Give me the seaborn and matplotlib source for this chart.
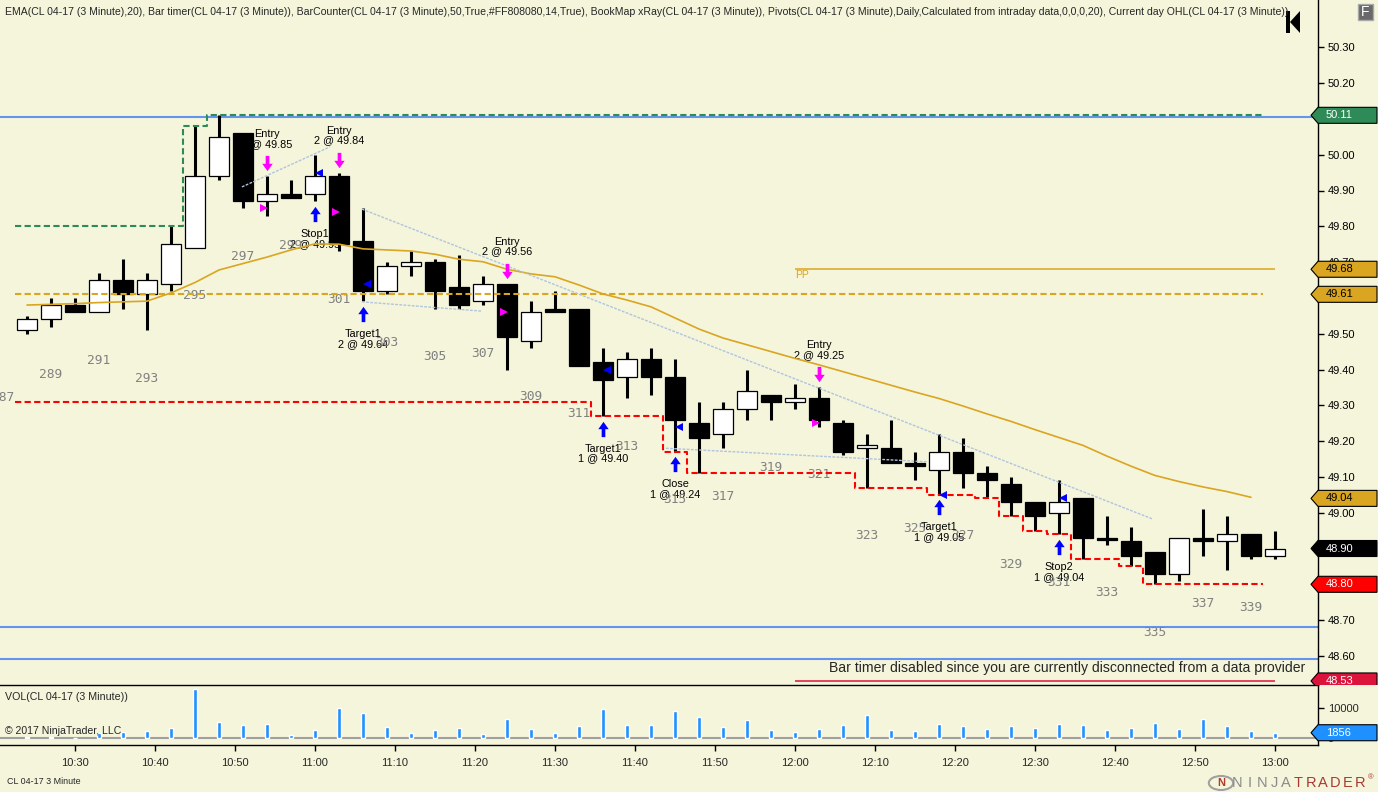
import matplotlib
matplotlib.use("Agg")
import numpy as np
import pandas as pd
import matplotlib.pyplot as plt
import seaborn as sns
from matplotlib.path import Path
from matplotlib.patches import Polygon, Rectangle, Circle
from matplotlib import transforms
from matplotlib import font_manager as fm

# ---------------- data ----------------
bar_times = ["10:24", "10:27", "10:30", "10:33", "10:36", "10:39", "10:42", "10:45", "10:48",
             "10:51", "10:54", "10:57", "11:00", "11:03", "11:06", "11:09", "11:12", "11:15",
             "11:18", "11:21", "11:24", "11:27", "11:30", "11:33", "11:36", "11:39", "11:42",
             "11:45", "11:48", "11:51", "11:54", "11:57", "12:00", "12:03", "12:06", "12:09",
             "12:12", "12:15", "12:18", "12:21", "12:24", "12:27", "12:30", "12:33", "12:36",
             "12:39", "12:42", "12:45", "12:48", "12:51", "12:54", "12:57", "13:00"]
opens = [49.51, 49.54, 49.58, 49.56, 49.65, 49.61, 49.64, 49.74, 49.94, 50.06, 49.87, 49.89, 49.89,
         49.94, 49.76, 49.62, 49.69, 49.70, 49.63, 49.59, 49.64, 49.48, 49.57, 49.57, 49.42, 49.38,
         49.43, 49.38, 49.25, 49.22, 49.29, 49.33, 49.31, 49.32, 49.25, 49.18, 49.18, 49.14, 49.12,
         49.17, 49.11, 49.08, 49.03, 49.00, 49.04, 48.93, 48.92, 48.89, 48.83, 48.93, 48.92, 48.94, 48.88]
highs = [49.55, 49.60, 49.60, 49.67, 49.71, 49.67, 49.80, 50.08, 50.11, 50.06, 49.94, 49.93, 50.00,
         49.95, 49.85, 49.70, 49.73, 49.71, 49.72, 49.66, 49.64, 49.59, 49.62, 49.57, 49.46, 49.45,
         49.46, 49.43, 49.31, 49.31, 49.40, 49.33, 49.36, 49.35, 49.26, 49.22, 49.26, 49.17, 49.22,
         49.21, 49.13, 49.10, 49.03, 49.09, 49.04, 48.99, 48.96, 48.89, 48.93, 49.01, 48.99, 48.94, 48.95]
lows = [49.50, 49.52, 49.56, 49.56, 49.57, 49.51, 49.62, 49.74, 49.93, 49.85, 49.83, 49.88, 49.87,
        49.73, 49.59, 49.61, 49.66, 49.57, 49.57, 49.58, 49.40, 49.46, 49.56, 49.41, 49.27, 49.32,
        49.33, 49.17, 49.11, 49.18, 49.26, 49.26, 49.29, 49.24, 49.16, 49.07, 49.14, 49.09, 49.05,
        49.07, 49.04, 48.99, 48.95, 48.94, 48.87, 48.91, 48.85, 48.80, 48.81, 48.88, 48.84, 48.87, 48.87]
closes = [49.54, 49.58, 49.56, 49.65, 49.61, 49.65, 49.75, 49.94, 50.05, 49.87, 49.89, 49.88, 49.94,
          49.75, 49.62, 49.69, 49.70, 49.62, 49.58, 49.64, 49.49, 49.56, 49.56, 49.41, 49.37, 49.43,
          49.38, 49.26, 49.21, 49.29, 49.34, 49.31, 49.32, 49.26, 49.17, 49.19, 49.14, 49.13, 49.17,
          49.11, 49.09, 49.03, 48.99, 49.03, 48.93, 48.925, 48.88, 48.83, 48.93, 48.92, 48.94, 48.88, 48.90]
volumes = [300, 550, 200, 1900, 2000, 2450, 3450, 16450, 5450, 4450, 4800, 1100, 2800, 10100, 8450,
           3800, 1800, 2800, 3450, 1450, 6450, 3100, 1800, 4100, 9800, 4450, 4450, 9100, 7100, 3800,
           6100, 2800, 2100, 3100, 4450, 7800, 2800, 2450, 4800, 4100, 3100, 4100, 3450, 4800, 4450,
           2800, 3450, 5100, 3100, 6450, 4100, 2450, 1856]
ema20 = [49.580, 49.582, 49.584, 49.587, 49.589, 49.591, 49.614, 49.643, 49.678, 49.696, 49.714,
         49.734, 49.751, 49.750, 49.737, 49.734, 49.731, 49.722, 49.708, 49.701, 49.680, 49.667,
         49.659, 49.636, 49.611, 49.594, 49.575, 49.544, 49.513, 49.488, 49.469, 49.450, 49.431,
         49.413, 49.394, 49.375, 49.356, 49.337, 49.319, 49.298, 49.276, 49.255, 49.232, 49.210,
         49.188, 49.158, 49.130, 49.104, 49.087, 49.072, 49.059, 49.043]
bar_counter_start = 288
prev_counter = ("10:21", 287, 49.457)   # label of the bar before the first visible one (time, number, low)

prior_day_high = 49.80      # current-day high before first visible bar
prior_day_low = 49.31       # current-day low before first visible bar
day_open = 49.61
blue_levels = [50.105, 48.68, 48.59]
pivot_pp = 49.68
pivot_s1 = 48.53
pivot_start, pivot_end = "12:00", "13:00"

trade_bars = [10, 12, 13, 14, 20, 24, 27, 33, 38, 43]
trade_names = ["Entry", "Stop1", "Entry", "Target1", "Entry", "Target1", "Close", "Entry", "Target1", "Stop2"]
trade_qty = [2, 2, 2, 2, 2, 1, 1, 2, 1, 1]
trade_price = [49.85, 49.95, 49.84, 49.64, 49.56, 49.40, 49.24, 49.25, 49.05, 49.04]
trade_side = ["sell", "buy", "sell", "buy", "sell", "buy", "buy", "sell", "buy", "buy"]

trendlines = [(("10:50:52", 49.910), ("11:01:52", 50.022)),
              (("11:05:52", 49.848), ("12:44:45", 48.982)),
              (("11:05:52", 49.589), ("11:20:52", 49.563)),
              (("11:43:52", 49.180), ("12:16:42", 49.142))]

xtick_labels = ["10:30", "10:40", "10:50", "11:00", "11:10", "11:20", "11:30", "11:40", "11:50",
                "12:00", "12:10", "12:20", "12:30", "12:40", "12:50", "13:00"]
price_ticks = [48.60, 48.70, 48.80, 48.90, 49.00, 49.10, 49.20, 49.30, 49.40, 49.50, 49.60,
               49.70, 49.80, 49.90, 50.00, 50.10, 50.20, 50.30]
flag_values = [50.11, 49.68, 49.61, 49.04, 48.90, 48.80, 48.53]
flag_fill = ["#2E8B57", "#DAA520", "#DAA520", "#DAA520", "#000000", "#FF0000", "#DC143C"]
flag_text = ["white", "black", "black", "black", "white", "white", "white"]

title = ("EMA(CL 04-17 (3 Minute),20), Bar timer(CL 04-17 (3 Minute)), BarCounter(CL 04-17 (3 Minute),50,True,"
         "#FF808080,14,True), BookMap xRay(CL 04-17 (3 Minute)), Pivots(CL 04-17 (3 Minute),Daily,Calculated "
         "from intraday data,0,0,0,20), Current day OHL(CL 04-17 (3 Minute))")


def tmin(s):
    parts = [int(p) for p in s.split(":")]
    return parts[0] * 60 + parts[1] + (parts[2] / 60 if len(parts) > 2 else 0)


t = np.array([tmin(s) for s in bar_times])
O, Hh, L, C = map(np.array, (opens, highs, lows, closes))
V = np.array(volumes, float)

# ---------------- style ----------------
sns.set_theme(style="white")
plt.rcParams['font.family'] = ['Liberation Sans', 'DejaVu Sans']
try:
    fm.findfont(fm.FontProperties(family='Liberation Sans Narrow'), fallback_to_default=False)
    NARROW = ['Liberation Sans Narrow', 'Liberation Sans']
except Exception:
    NARROW = ['Liberation Sans', 'DejaVu Sans']

BG = "#F5F5DC"
W, H = 1378, 792
PX_PER_MIN = 8.0
PX_PER_PRICE = 358.0

fig = plt.figure(figsize=(W / 100, H / 100), dpi=100, facecolor=BG)
renderer = fig.canvas.get_renderer()


def fx(px):
    return px / W


def fy(py):
    return 1 - py / H


def fit_text(x, y, s, width_px, size, **kw):
    txt = fig.text(fx(x), fy(y), s, fontsize=size, family=NARROW, va='center', **kw)
    w = txt.get_window_extent(renderer).width
    if w > 0:
        txt.set_fontsize(size * width_px / w)
    return txt


ax = fig.add_axes([0, fy(685), fx(1318), 685 / H])
axv = fig.add_axes([0, fy(745), fx(1318), 60 / H], sharex=ax)
for a in (ax, axv):
    a.set_facecolor(BG)
    for s in a.spines.values():
        s.set_color("black")
        s.set_linewidth(1.0)
    a.spines['left'].set_visible(False)
ax.spines['top'].set_visible(False)
ax.spines['bottom'].set_visible(False)

x0 = tmin("10:50") - 235 / PX_PER_MIN
ax.set_xlim(x0, x0 + 1318 / PX_PER_MIN)
ax.set_ylim(50 - (685 - 154.7) / PX_PER_PRICE, 50 + 154.7 / PX_PER_PRICE)

# ---------------- reference lines ----------------
for lvl in blue_levels:
    ax.axhline(lvl, color="#6495ED", lw=1.5, zorder=2)

edges = np.r_[t[:52] - 1.5, t[51] + 1.5]
run_hi = np.maximum.accumulate(np.r_[prior_day_high, Hh[:52]])[1:]
run_lo = np.minimum.accumulate(np.r_[prior_day_low, L[:52]])[1:]
dash = (0, (3, 1.6))
ax.step(edges, np.r_[run_hi, run_hi[-1]], where='post', color="#2E8B57", lw=1.5, ls=dash, zorder=5)
ax.step(edges, np.r_[run_lo, run_lo[-1]], where='post', color="#FF0000", lw=1.5, ls=dash, zorder=5)
ax.hlines(day_open, edges[0], edges[-1], color="#DAA520", lw=1.5, ls=dash, zorder=5)

ps, pe = tmin(pivot_start), tmin(pivot_end)
ax.hlines(pivot_pp, ps, pe, color="#DAA520", lw=1.1, zorder=5)
ax.hlines(pivot_s1, ps, pe, color="#DC143C", lw=1.1, zorder=5)
ax.annotate("PP", (ps, pivot_pp), xytext=(0, -6), textcoords='offset pixels', ha='left', va='center',
            color="#DAA520", fontsize=7.5, zorder=5)

# ---------------- candles ----------------
up = C >= O
ax.vlines(t, L, Hh, color="black", lw=2.2, zorder=3)
ax.bar(t, np.abs(C - O), bottom=np.minimum(O, C), width=2.5,
       color=np.where(up, "white", "black"), edgecolor="black", linewidth=0.9, zorder=4)

# EMA
sns.lineplot(x=t[:52], y=ema20, ax=ax, color="#DAA520", lw=1.2, zorder=6, estimator=None, legend=False)

# trend lines
for (a0, p0), (a1, p1) in trendlines:
    ax.plot([tmin(a0), tmin(a1)], [p0, p1], color="#B0C4DE", lw=1.0, ls=(0, (2, 1)), zorder=6)

# bar counter
for k in range(len(t)):
    n = bar_counter_start + k
    if n % 2 == 1:
        ax.annotate(str(n), (t[k], L[k]), xytext=(0, -48), textcoords='offset pixels', ha='center',
                    va='center', color="#808080", fontsize=9.3, family='DejaVu Sans Mono', zorder=2)
ax.annotate(str(prev_counter[1]), (tmin(prev_counter[0]), prev_counter[2]), xytext=(0, -48),
            textcoords='offset pixels', ha='center', va='center', color="#808080", fontsize=9.3,
            family='DejaVu Sans Mono', zorder=2, annotation_clip=False)

# trades
arrow_down = Path([(-0.12, 0.5), (0.12, 0.5), (0.12, -0.02), (0.34, -0.02), (0, -0.5),
                   (-0.34, -0.02), (-0.12, -0.02), (-0.12, 0.5)], closed=True)
arrow_up = Path([(x, -y) for x, y in arrow_down.vertices], closed=True)
for k, name, q, pr, side in zip(trade_bars, trade_names, trade_qty, trade_price, trade_side):
    if side == "sell":
        tr = transforms.offset_copy(ax.transData, fig=fig, x=0, y=13, units='dots')
        ax.plot([t[k]], [Hh[k]], marker=arrow_down, ms=11, color="#FF00FF", mew=0, transform=tr, zorder=7)
        ax.plot([t[k] - 0.375], [pr], marker='>', ms=6, color="#FF00FF", mew=0, zorder=7)
        ax.annotate(f"{name}\n{q} @ {pr:.2f}", (t[k], Hh[k]), xytext=(0, 37), textcoords='offset pixels',
                    ha='center', va='center', fontsize=7.8, linespacing=1.0, color="black", zorder=1)
    else:
        tr = transforms.offset_copy(ax.transData, fig=fig, x=0, y=-12.5, units='dots')
        ax.plot([t[k]], [L[k]], marker=arrow_up, ms=11, color="#0000FF", mew=0, transform=tr, zorder=7)
        ax.plot([t[k] + 0.45], [pr], marker='<', ms=6, color="#0000FF", mew=0, zorder=7)
        ax.annotate(f"{name}\n{q} @ {pr:.2f}", (t[k], L[k]), xytext=(0, -37.5), textcoords='offset pixels',
                    ha='center', va='center', fontsize=7.8, linespacing=1.0, color="black", zorder=1)

# axis formatting main
ax.yaxis.tick_right()
ax.set_yticks(price_ticks)
ax.set_yticklabels([f"{p:.2f}" for p in price_ticks], fontsize=8, color="black")
ax.tick_params(axis='y', direction='out', length=4, width=1, color="black", pad=3, right=True, left=False)
ax.tick_params(axis='x', bottom=False, labelbottom=False)
ax.grid(False)

# ---------------- volume ----------------
axv.bar(t, V, width=0.4, color="#1E90FF", zorder=3)
axv.axhline(0, color="#A0A0A0", lw=1.5, zorder=2)
axv.set_ylim(-2233, 17767)
axv.yaxis.tick_right()
axv.set_yticks([0, 10000])
axv.set_yticklabels(["0", "10000"], fontsize=8)
axv.tick_params(axis='y', direction='out', length=4, width=1, color="black", pad=3, right=True, left=False)
axv.set_xticks([tmin(s) for s in xtick_labels])
axv.set_xticklabels(xtick_labels, fontsize=8)
axv.tick_params(axis='x', direction='out', length=4, width=1, color="black", pad=5, bottom=True)
axv.grid(False)

# ---------------- right-edge flags ----------------
axf = fig.add_axes([fx(1305), fy(685), fx(73), 685 / H])
axf.set_xlim(1305, 1378)
axf.set_ylim(ax.get_ylim())
axf.axis('off')
hh = 8 / PX_PER_PRICE
for val, fc, tc in zip(flag_values, flag_fill, flag_text):
    poly = Polygon([(1311, val), (1318, val + hh), (1377, val + hh), (1377, val - hh), (1318, val - hh)],
                   closed=True, facecolor=fc, edgecolor="black", lw=0.8)
    axf.add_patch(poly)
    axf.text(1326, val, f"{val:.2f}", ha='left', va='center', fontsize=8, color=tc)

axfv = fig.add_axes([fx(1305), fy(745), fx(73), 60 / H])
axfv.set_xlim(1305, 1378)
axfv.set_ylim(axv.get_ylim())
axfv.axis('off')
vh = 8 / 30 * 10000
last_vol = V[-1]
axfv.add_patch(Polygon([(1311, last_vol), (1318, last_vol + vh), (1377, last_vol + vh), (1377, last_vol - vh),
                        (1318, last_vol - vh)], closed=True, facecolor="#1E90FF", edgecolor="black", lw=0.8))
axfv.text(1326, last_vol, f"{int(last_vol)}", ha='left', va='center', fontsize=8, color="white")

# ---------------- texts / decorations ----------------
fit_text(5, 12, title, 1290, 9.3, ha='left')
fit_text(1305, 668, "Bar timer disabled since you are currently disconnected from a data provider",
         472, 11, ha='right')
fit_text(5, 697, "VOL(CL 04-17 (3 Minute))", 122, 9, ha='left')
fit_text(5, 731, "© 2017 NinjaTrader, LLC", 117, 9, ha='left')
fit_text(7, 782, "CL 04-17 3 Minute", 73, 7.5, ha='left')

# F button
fig.patches.append(Rectangle((fx(1358), fy(20)), fx(15), 16 / H, transform=fig.transFigure,
                             facecolor="#696969", edgecolor="#A9A9A9", lw=1))
fig.text(fx(1365.5), fy(12), "F", ha='center', va='center', fontsize=10, color="white")
# scroll-to-start icon
fig.patches.append(Rectangle((fx(1286), fy(33)), fx(4), 22 / H, transform=fig.transFigure,
                             facecolor="black", edgecolor="none"))
fig.patches.append(Polygon([(fx(1290), fy(22)), (fx(1300), fy(11)), (fx(1300), fy(33))], closed=True,
                           transform=fig.transFigure, facecolor="black", edgecolor="none"))

# NinjaTrader logo
fig.patches.append(Circle((fx(1221), fy(783)), 7 / H, transform=fig.transFigure, facecolor="none",
                          edgecolor="#A0A0A0", lw=1.5))
fig.text(fx(1221), fy(783), "N", ha='center', va='center', fontsize=8, color="#B03A2E", fontweight='bold')
logo = "NINJATRADER"
for i, ch in enumerate(logo):
    fig.text(fx(1237 + i * 12.3), fy(783), ch, ha='center', va='center', fontsize=10.5,
             color="#8A8A8A" if i < 5 else "#A83A32")
fig.text(fx(1371), fy(778), "®", ha='center', va='center', fontsize=5.5, color="#A83A32")

fig.savefig("out.png", dpi=100, facecolor=BG)
